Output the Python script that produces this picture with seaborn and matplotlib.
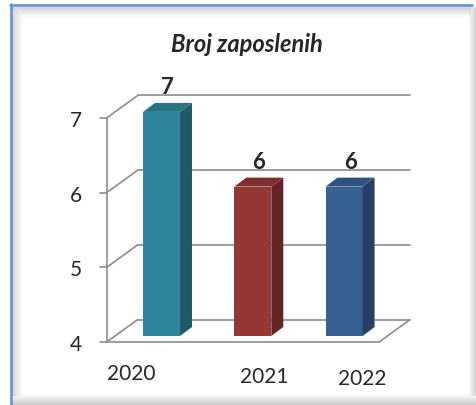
import matplotlib.pyplot as plt
import seaborn as sns
import pandas as pd
from matplotlib.patches import Polygon
from matplotlib.lines import Line2D
import matplotlib.transforms as mtransforms

# data
years = ['2020', '2021', '2022']
employees = [7, 6, 6]
yticks = [4, 5, 6, 7]
title = 'Broj zaposlenih'

front_colors = ['#31859C', '#953735', '#376092']
side_colors = ['#215968', '#632523', '#244062']
top_colors = ['#2A7284', '#7E2F2D', '#2F5280']

sns.set_style('white')
plt.rcParams['font.family'] = ['Lato', 'DejaVu Sans']

W, H = 477, 406
fig = plt.figure(figsize=(W / 100, H / 100), dpi=100)


def fx(px):
    return px / W


def fy(py):
    return 1 - py / H


# frame: blue top/left border, soft shadows
for i in range(10):
    a = 0.30 * (1 - i / 10)
    fig.add_artist(Line2D([fx(12 + i), fx(470)], [fy(8 + i)] * 2, color='gray', alpha=a, lw=0.8))
    fig.add_artist(Line2D([fx(12 + i)] * 2, [fy(8 + i), fy(396)], color='gray', alpha=a, lw=0.8))
for i in range(11):
    a = 0.05 + 0.35 * i / 10
    fig.add_artist(Line2D([fx(12), fx(477)], [fy(396 + i)] * 2, color='gray', alpha=a, lw=0.8))
for i in range(8):
    a = 0.05 + 0.30 * i / 7
    fig.add_artist(Line2D([fx(469 + i)] * 2, [fy(8), fy(396)], color='gray', alpha=a, lw=0.8))
fig.add_artist(Line2D([fx(10), fx(472)], [fy(6)] * 2, color='#5B8FD6', lw=1.8))
fig.add_artist(Line2D([fx(11)] * 2, [fy(5), fy(406)], color='#5B8FD6', lw=1.8))

ax = fig.add_axes([fx(100), fy(360), fx(420) - fx(100), fy(60) - fy(360)])
ax.set_facecolor('none')

df = pd.DataFrame({'Godina': years, 'Zaposleni': employees})
sns.barplot(data=df, x='Godina', y='Zaposleni', hue='Godina', palette=front_colors,
            width=0.405, saturation=1, legend=False, linewidth=0, ax=ax, zorder=3)
ax.set_xlim(-0.674, 2.831)
ax.set_ylim(3.692, 7.708)

base = yticks[0]
# depth of the walls and offset of the front plane
DX, DY = 0.34, 0.301
FX, FY = -0.092, -0.081
xl, xr = -0.601, 2.382
gc, glw = '#8C8C8C', 1.2

for v in yticks:
    y0 = v + FY
    ax.plot([xl - 0.077, xl], [y0, y0], color=gc, lw=glw, zorder=1, clip_on=False)
    ax.plot([xl, xl + DX], [y0, y0 + DY], color=gc, lw=glw, zorder=1, clip_on=False)
    ax.plot([xl + DX, xr + DX], [y0 + DY, y0 + DY], color=gc, lw=glw, zorder=1, clip_on=False)
ax.plot([xl, xl], [base + FY, yticks[-1] + FY], color=gc, lw=glw, zorder=1, clip_on=False)
ax.plot([xl, xr], [base + FY, base + FY], color=gc, lw=glw, zorder=1, clip_on=False)
ax.plot([xr, xr + DX], [base + FY, base + FY + DY], color=gc, lw=glw, zorder=1, clip_on=False)

# 3D look for bars
bdx, bdy = 0.131, 0.12
for p, sc, tc in zip(ax.patches, side_colors, top_colors):
    h = p.get_height()
    p.set_y(base)
    p.set_height(h - base)
    x0 = p.get_x()
    x1 = x0 + p.get_width()
    ax.add_patch(Polygon([(x1, base), (x1 + bdx, base + bdy), (x1 + bdx, h + bdy), (x1, h)],
                         closed=True, facecolor=sc, lw=0, zorder=3))
    ax.add_patch(Polygon([(x0, h), (x0 + bdx, h + bdy), (x1 + bdx, h + bdy), (x1, h)],
                         closed=True, facecolor=tc, lw=0, zorder=3))
    ax.text((x0 + x1 + bdx) / 2, h + 0.34, f'{h:g}', ha='center', va='center',
            fontsize=16, fontweight='bold', zorder=4)

ax.set_yticks([v + FY for v in yticks], [str(v) for v in yticks])
ax.tick_params(axis='y', length=0, pad=13, labelsize=15)
ax.set_xticks(range(len(years)), years)
ax.tick_params(axis='x', length=0, pad=3, labelsize=15)
shifts = [(-0.30, 0.0), (0.11, -0.03), (0.18, -0.05)]
for lab, (dx, dy) in zip(ax.get_xticklabels(), shifts):
    lab.set_transform(lab.get_transform() + mtransforms.ScaledTranslation(dx, dy, fig.dpi_scale_trans))
ax.set_xlabel('')
ax.set_ylabel('')
for s in ax.spines.values():
    s.set_visible(False)

fig.text(fx(247), fy(45), title, ha='center', va='center', fontsize=17,
         fontweight='bold', fontstyle='italic')

fig.savefig('out.png', dpi=100)
